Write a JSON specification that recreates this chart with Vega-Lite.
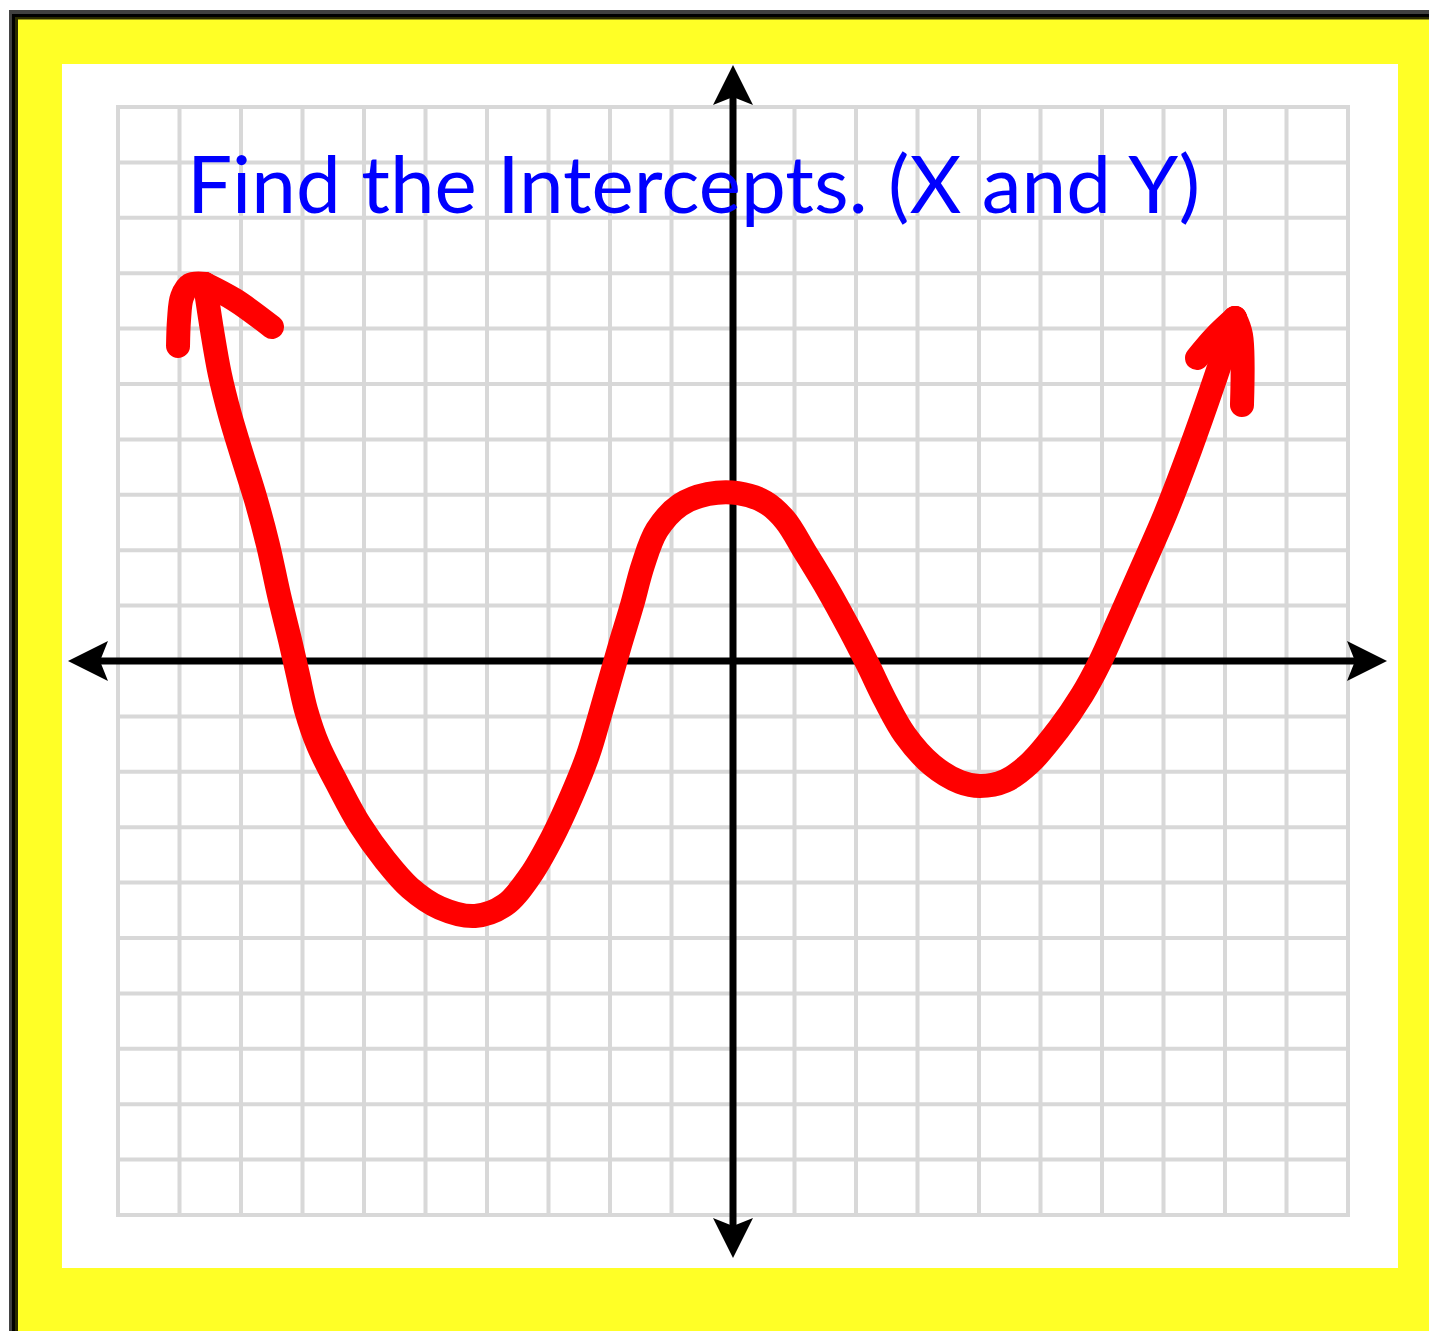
{
  "$schema": "https://vega.github.io/schema/vega-lite/v6.json",
  "width": 1230,
  "height": 1108,
  "autosize": {"type": "none"},
  "padding": {"left": 118, "top": 107, "right": 81, "bottom": 116},
  "background": "#ffffff",
  "view": {"stroke": null},
  "datasets": {
    "frame": [
      {"part": "gray", "x1": -11.772, "x2": 20, "y1": -20, "y2": 11.751},
      {"part": "black", "x1": -11.724, "x2": 20, "y1": -20, "y2": 11.679},
      {"part": "olive", "x1": -11.675, "x2": 20, "y1": -20, "y2": 11.625},
      {"part": "yellow", "x1": -11.626, "x2": 20, "y1": -20, "y2": 11.579},
      {"part": "white", "x1": -10.911, "x2": 10.813, "y1": -10.957, "y2": 10.776}
    ],
    "grid": [
      {"v": -10}, {"v": -9}, {"v": -8}, {"v": -7}, {"v": -6}, {"v": -5}, {"v": -4},
      {"v": -3}, {"v": -2}, {"v": -1}, {"v": 0}, {"v": 1}, {"v": 2}, {"v": 3},
      {"v": 4}, {"v": 5}, {"v": 6}, {"v": 7}, {"v": 8}, {"v": 9}, {"v": 10}
    ],
    "axes": [
      {"axis": "x", "x1": -10.45, "x2": 10.28, "y1": 0, "y2": 0},
      {"axis": "y", "x1": 0, "x2": 0, "y1": -10.38, "y2": 10.36}
    ],
    "arrows": [
      {"dir": "up", "x": 0, "y": 10.397},
      {"dir": "down", "x": 0, "y": -10.415},
      {"dir": "left", "x": -10.488, "y": 0},
      {"dir": "right", "x": 10.309, "y": 0}
    ],
    "curve": [
      {"seg": "main", "i": 1, "x": -8.585, "y": 6.805},
      {"seg": "main", "i": 2, "x": -8.472, "y": 5.975},
      {"seg": "main", "i": 3, "x": -8.341, "y": 5.162},
      {"seg": "main", "i": 4, "x": -8.179, "y": 4.44},
      {"seg": "main", "i": 5, "x": -7.984, "y": 3.718},
      {"seg": "main", "i": 6, "x": -7.756, "y": 2.906},
      {"seg": "main", "i": 7, "x": -7.561, "y": 2.094},
      {"seg": "main", "i": 8, "x": -7.382, "y": 1.191},
      {"seg": "main", "i": 9, "x": -7.203, "y": 0.379},
      {"seg": "main", "i": 10, "x": -7.073, "y": -0.253},
      {"seg": "main", "i": 11, "x": -6.943, "y": -0.884},
      {"seg": "main", "i": 12, "x": -6.748, "y": -1.516},
      {"seg": "main", "i": 13, "x": -6.423, "y": -2.238},
      {"seg": "main", "i": 14, "x": -6.065, "y": -2.96},
      {"seg": "main", "i": 15, "x": -5.659, "y": -3.592},
      {"seg": "main", "i": 16, "x": -5.252, "y": -4.097},
      {"seg": "main", "i": 17, "x": -4.764, "y": -4.458},
      {"seg": "main", "i": 18, "x": -4.195, "y": -4.603},
      {"seg": "main", "i": 19, "x": -3.707, "y": -4.404},
      {"seg": "main", "i": 20, "x": -3.301, "y": -3.881},
      {"seg": "main", "i": 21, "x": -2.943, "y": -3.195},
      {"seg": "main", "i": 22, "x": -2.618, "y": -2.419},
      {"seg": "main", "i": 23, "x": -2.358, "y": -1.697},
      {"seg": "main", "i": 24, "x": -2.163, "y": -0.975},
      {"seg": "main", "i": 25, "x": -2.0, "y": -0.343},
      {"seg": "main", "i": 26, "x": -1.837, "y": 0.289},
      {"seg": "main", "i": 27, "x": -1.642, "y": 1.011},
      {"seg": "main", "i": 28, "x": -1.463, "y": 1.733},
      {"seg": "main", "i": 29, "x": -1.236, "y": 2.365},
      {"seg": "main", "i": 30, "x": -0.862, "y": 2.816},
      {"seg": "main", "i": 31, "x": -0.407, "y": 3.014},
      {"seg": "main", "i": 32, "x": 0.081, "y": 3.032},
      {"seg": "main", "i": 33, "x": 0.52, "y": 2.87},
      {"seg": "main", "i": 34, "x": 0.846, "y": 2.545},
      {"seg": "main", "i": 35, "x": 1.171, "y": 1.968},
      {"seg": "main", "i": 36, "x": 1.545, "y": 1.282},
      {"seg": "main", "i": 37, "x": 1.902, "y": 0.56},
      {"seg": "main", "i": 38, "x": 2.195, "y": -0.072},
      {"seg": "main", "i": 39, "x": 2.472, "y": -0.704},
      {"seg": "main", "i": 40, "x": 2.797, "y": -1.336},
      {"seg": "main", "i": 41, "x": 3.236, "y": -1.877},
      {"seg": "main", "i": 42, "x": 3.691, "y": -2.184},
      {"seg": "main", "i": 43, "x": 4.016, "y": -2.256},
      {"seg": "main", "i": 44, "x": 4.423, "y": -2.166},
      {"seg": "main", "i": 45, "x": 4.829, "y": -1.841},
      {"seg": "main", "i": 46, "x": 5.285, "y": -1.245},
      {"seg": "main", "i": 47, "x": 5.675, "y": -0.614},
      {"seg": "main", "i": 48, "x": 5.967, "y": -0.018},
      {"seg": "main", "i": 49, "x": 6.26, "y": 0.704},
      {"seg": "main", "i": 50, "x": 6.618, "y": 1.606},
      {"seg": "main", "i": 51, "x": 7.024, "y": 2.635},
      {"seg": "main", "i": 52, "x": 7.431, "y": 3.809},
      {"seg": "main", "i": 53, "x": 7.805, "y": 4.982},
      {"seg": "main", "i": 54, "x": 8.163, "y": 6.191},
      {"seg": "leftBarbA", "i": 1, "x": -8.585, "y": 6.805},
      {"seg": "leftBarbA", "i": 2, "x": -8.829, "y": 6.787},
      {"seg": "leftBarbA", "i": 3, "x": -8.959, "y": 6.57},
      {"seg": "leftBarbA", "i": 4, "x": -9.008, "y": 6.155},
      {"seg": "leftBarbA", "i": 5, "x": -9.024, "y": 5.686},
      {"seg": "leftBarbB", "i": 1, "x": -8.585, "y": 6.805},
      {"seg": "leftBarbB", "i": 2, "x": -8.098, "y": 6.516},
      {"seg": "leftBarbB", "i": 3, "x": -7.496, "y": 6.029},
      {"seg": "rightBarbA", "i": 1, "x": 8.163, "y": 6.191},
      {"seg": "rightBarbA", "i": 2, "x": 8.26, "y": 5.884},
      {"seg": "rightBarbA", "i": 3, "x": 8.276, "y": 4.621},
      {"seg": "rightBarbB", "i": 1, "x": 8.163, "y": 6.191},
      {"seg": "rightBarbB", "i": 2, "x": 7.837, "y": 5.848},
      {"seg": "rightBarbB", "i": 3, "x": 7.545, "y": 5.469}
    ],
    "title": [
      {"label": "Find the Intercepts. (X and Y)", "x": -8.878, "y": 8.087}
    ]
  },
  "layer": [
    {
      "data": {"name": "frame"},
      "mark": {"type": "rect", "strokeWidth": 0},
      "encoding": {
        "x": {"field": "x1", "type": "quantitative", "scale": {"domain": [-10, 10], "nice": false, "zero": false}, "axis": null},
        "x2": {"field": "x2"},
        "y": {"field": "y1", "type": "quantitative", "scale": {"domain": [-10, 10], "nice": false, "zero": false}, "axis": null},
        "y2": {"field": "y2"},
        "fill": {
          "field": "part", "type": "nominal", "legend": null,
          "scale": {"domain": ["gray", "black", "olive", "yellow", "white"], "range": ["#404040", "#000000", "#2a2a00", "#ffff26", "#ffffff"]}
        }
      }
    },
    {
      "data": {"name": "grid"},
      "mark": {"type": "rule", "color": "#d8d8d8", "strokeWidth": 4, "strokeCap": "square"},
      "encoding": {
        "x": {"field": "v", "type": "quantitative", "scale": {"domain": [-10, 10], "nice": false, "zero": false}, "axis": null},
        "y": {"datum": -10, "type": "quantitative", "scale": {"domain": [-10, 10], "nice": false, "zero": false}, "axis": null},
        "y2": {"datum": 10}
      }
    },
    {
      "data": {"name": "grid"},
      "mark": {"type": "rule", "color": "#d8d8d8", "strokeWidth": 4, "strokeCap": "square"},
      "encoding": {
        "y": {"field": "v", "type": "quantitative", "scale": {"domain": [-10, 10], "nice": false, "zero": false}, "axis": null},
        "x": {"datum": -10, "type": "quantitative", "scale": {"domain": [-10, 10], "nice": false, "zero": false}, "axis": null},
        "x2": {"datum": 10}
      }
    },
    {
      "data": {"name": "axes"},
      "mark": {"type": "rule", "color": "#000000", "strokeWidth": 7},
      "encoding": {
        "x": {"field": "x1", "type": "quantitative", "scale": {"domain": [-10, 10], "nice": false, "zero": false}, "axis": null},
        "x2": {"field": "x2"},
        "y": {"field": "y1", "type": "quantitative", "scale": {"domain": [-10, 10], "nice": false, "zero": false}, "axis": null},
        "y2": {"field": "y2"}
      }
    },
    {
      "data": {"name": "arrows"},
      "mark": {"type": "point", "filled": true, "color": "#000000", "opacity": 1, "size": 1600},
      "encoding": {
        "x": {"field": "x", "type": "quantitative", "scale": {"domain": [-10, 10], "nice": false, "zero": false}, "axis": null},
        "y": {"field": "y", "type": "quantitative", "scale": {"domain": [-10, 10], "nice": false, "zero": false}, "axis": null},
        "shape": {
          "field": "dir", "type": "nominal", "legend": null,
          "scale": {
            "domain": ["up", "down", "left", "right"],
            "range": ["M0,-1L1,1L0,0.6L-1,1Z", "M0,1L1,-1L0,-0.6L-1,-1Z", "M-1,0L1,-1L0.6,0L1,1Z", "M1,0L-1,-1L-0.6,0L-1,1Z"]
          }
        }
      }
    },
    {
      "data": {"name": "curve"},
      "mark": {"type": "line", "color": "#ff0000", "strokeWidth": 24, "strokeCap": "round", "strokeJoin": "round", "interpolate": "catmull-rom"},
      "encoding": {
        "x": {"field": "x", "type": "quantitative", "scale": {"domain": [-10, 10], "nice": false, "zero": false}, "axis": null},
        "y": {"field": "y", "type": "quantitative", "scale": {"domain": [-10, 10], "nice": false, "zero": false}, "axis": null},
        "detail": {"field": "seg", "type": "nominal"},
        "order": {"field": "i", "type": "quantitative"}
      }
    },
    {
      "data": {"name": "title"},
      "mark": {"type": "text", "color": "#0000ff", "font": "Lato", "fontSize": 80, "align": "left", "baseline": "alphabetic"},
      "encoding": {
        "x": {"field": "x", "type": "quantitative", "scale": {"domain": [-10, 10], "nice": false, "zero": false}, "axis": null},
        "y": {"field": "y", "type": "quantitative", "scale": {"domain": [-10, 10], "nice": false, "zero": false}, "axis": null},
        "text": {"field": "label"}
      }
    }
  ]
}
